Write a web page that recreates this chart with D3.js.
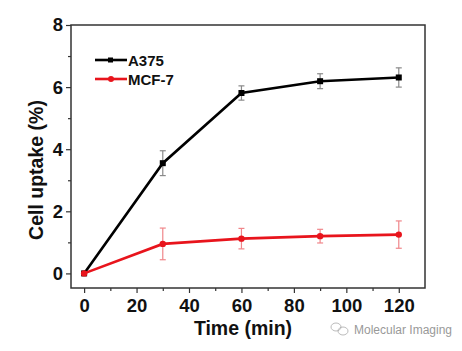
<!DOCTYPE html>
<html>
<head>
<meta charset="utf-8">
<script src="https://d3js.org/d3.v7.min.js"></script>
<style>
  body { margin: 0; background: #fff; }
  text { font-family: Arial, "Liberation Sans", sans-serif; }
</style>
</head>
<body>
<div id="chart"></div>
<script>
const times = [0, 30, 60, 90, 120];
const a375 = [0, 3.55, 5.81, 6.19, 6.31];
const a375Err = [0.05, 0.4, 0.23, 0.24, 0.31];
const mcf7 = [0, 0.95, 1.12, 1.2, 1.25];
const mcf7Err = [0.03, 0.51, 0.33, 0.22, 0.44];
const xTicks = [0, 20, 40, 60, 80, 100, 120];
const yTicks = [0, 2, 4, 6, 8];

const W = 462, H = 351;
const margin = { top: 25, right: 37, bottom: 63, left: 71 };
const width = W - margin.left - margin.right,
    height = H - margin.top - margin.bottom;

const svg = d3.select("#chart").append("svg")
    .attr("width", W)
    .attr("height", H);

const g = svg.append("g")
    .attr("transform", `translate(${margin.left},${margin.top})`);

const x = d3.scaleLinear().domain([-5, 130]).range([0, width]);
const y = d3.scaleLinear().domain([-0.47, 8]).range([height, 0]);

// minor ticks
g.append("g")
    .attr("transform", `translate(0,${height})`)
    .call(d3.axisBottom(x).tickValues(d3.range(10, 130, 20)).tickSize(3).tickFormat(""))
    .call(a => a.select(".domain").remove());
g.append("g")
    .call(d3.axisLeft(y).tickValues([1, 3, 5, 7]).tickSize(3).tickFormat(""))
    .call(a => a.select(".domain").remove());

const xAxis = g.append("g")
    .attr("transform", `translate(0,${height})`)
    .call(d3.axisBottom(x).tickValues(xTicks).tickSize(5).tickPadding(6));
xAxis.select(".domain").remove();

const yAxis = g.append("g")
    .call(d3.axisLeft(y).tickValues(yTicks).tickSize(5).tickPadding(3));
yAxis.select(".domain").remove();

g.selectAll(".tick line").attr("stroke", "#333").attr("stroke-width", 1.2);
g.selectAll(".tick text")
    .attr("fill", "#111")
    .style("font-size", "18.5px")
    .style("font-weight", "bold");

// frame
g.append("rect")
    .attr("width", width)
    .attr("height", height)
    .attr("fill", "none")
    .attr("stroke", "#333")
    .attr("stroke-width", 1.5);

const series = [
    { name: "A375", values: a375, err: a375Err, color: "#000", errColor: "#8a8a8a", shape: "square" },
    { name: "MCF-7", values: mcf7, err: mcf7Err, color: "#e8141c", errColor: "#f0868a", shape: "circle" }
];

const line = d3.line().x(d => x(d.t)).y(d => y(d.v));

series.forEach(s => {
    const pts = times.map((t, i) => ({ t: t, v: s.values[i], e: s.err[i] }));
    const eg = g.append("g").attr("stroke", s.errColor).attr("stroke-width", 1.2);
    pts.filter(d => d.t > 0).forEach(d => {
        eg.append("line")
            .attr("x1", x(d.t)).attr("x2", x(d.t))
            .attr("y1", y(d.v - d.e)).attr("y2", y(d.v + d.e));
        [d.v - d.e, d.v + d.e].forEach(v => {
            eg.append("line")
                .attr("x1", x(d.t) - 3).attr("x2", x(d.t) + 3)
                .attr("y1", y(v)).attr("y2", y(v));
        });
    });
    g.append("path")
        .datum(pts)
        .attr("fill", "none")
        .attr("stroke", s.color)
        .attr("stroke-width", 2.6)
        .attr("d", line);
    if (s.shape === "square") {
        g.selectAll(null).data(pts).enter().append("rect")
            .attr("x", d => x(d.t) - 3).attr("y", d => y(d.v) - 3)
            .attr("width", 6).attr("height", 6)
            .attr("fill", s.color);
    } else {
        g.selectAll(null).data(pts).enter().append("circle")
            .attr("cx", d => x(d.t)).attr("cy", d => y(d.v))
            .attr("r", 3.2)
            .attr("fill", s.color);
    }
});

// legend
const legend = g.append("g").attr("transform", "translate(24,35)");
series.forEach((s, i) => {
    const lg = legend.append("g").attr("transform", `translate(0,${i * 19})`);
    lg.append("line").attr("x1", 0).attr("x2", 32).attr("stroke", s.color).attr("stroke-width", 2.6);
    if (s.shape === "square") {
        lg.append("rect").attr("x", 13).attr("y", -2.5).attr("width", 5).attr("height", 5).attr("fill", s.color);
    } else {
        lg.append("circle").attr("cx", 16).attr("r", 3).attr("fill", s.color);
    }
    lg.append("text")
        .attr("x", 33).attr("y", 5.5)
        .style("font-size", "15px")
        .style("font-weight", "bold")
        .attr("fill", "#111")
        .text(s.name);
});

// axis titles
svg.append("text")
    .attr("x", 243).attr("y", 335)
    .attr("text-anchor", "middle")
    .style("font-size", "19.5px")
    .style("font-weight", "bold")
    .attr("fill", "#111")
    .text("Time (min)");

svg.append("text")
    .attr("transform", "translate(43,170) rotate(-90)")
    .attr("text-anchor", "middle")
    .style("font-size", "19.5px")
    .style("font-weight", "bold")
    .attr("fill", "#111")
    .text("Cell uptake (%)");

// watermark
const wm = svg.append("g").attr("transform", "translate(340,330)").attr("fill", "none").attr("stroke", "#aaa").attr("stroke-width", 0.8);
wm.append("ellipse").attr("cx", -4).attr("cy", -3).attr("rx", 5).attr("ry", 4);
wm.append("ellipse").attr("cx", 3).attr("cy", 1).attr("rx", 5).attr("ry", 4);
svg.append("text")
    .attr("x", 354).attr("y", 334)
    .style("font-size", "12px")
    .attr("fill", "#999")
    .text("Molecular Imaging");
</script>
</body>
</html>
